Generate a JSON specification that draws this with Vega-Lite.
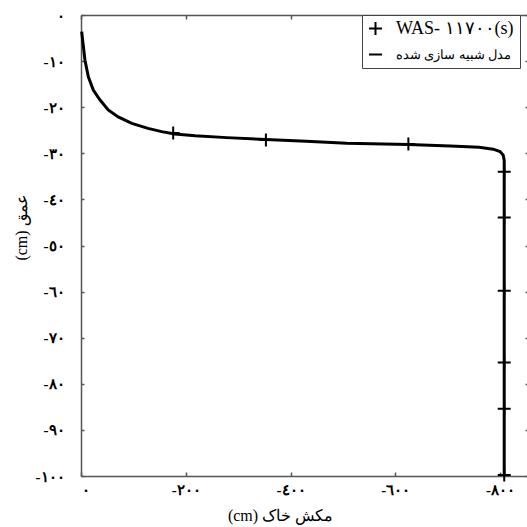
{
  "$schema": "https://vega.github.io/schema/vega-lite/v6.json",
  "autosize": {"type": "none"},
  "padding": {"left": 81, "top": 15, "right": 0, "bottom": 51},
  "width": 446,
  "height": 461,
  "background": "white",
  "config": {
    "view": {"stroke": null},
    "locale": {"number": {"decimal": ".", "thousands": ",", "grouping": [3], "currency": ["", ""], "numerals": ["٠", "١", "٢", "٣", "٤", "٥", "٦", "٧", "٨", "٩"], "minus": "-"}},
    "axis": {"grid": false, "domainColor": "#555", "domainWidth": 1.5, "tickColor": "#555", "tickWidth": 1.5, "labelColor": "black", "titleColor": "black", "labelFont": "Liberation Serif", "labelFontSize": 15, "labelFontWeight": "bold", "titleFont": "Liberation Serif", "titleFontSize": 16, "titleFontWeight": "normal"},
    "legend": {"orient": "none", "legendX": 281, "legendY": 0, "padding": 6, "strokeColor": "#444", "fillColor": "white", "cornerRadius": 0, "labelFont": "Liberation Serif", "labelColor": "black", "labelLimit": 300, "labelOffset": 13, "rowPadding": 8, "symbolStrokeWidth": 2, "symbolStrokeColor": "black", "symbolSize": 169, "title": null}
  },
  "datasets": {
    "model": [
      {"suction": -1.3, "depth": -3.6},
      {"suction": -3.8, "depth": -6.1},
      {"suction": -7.6, "depth": -9.8},
      {"suction": -14, "depth": -13.4},
      {"suction": -23.5, "depth": -16.3},
      {"suction": -36, "depth": -18.4},
      {"suction": -52, "depth": -20.6},
      {"suction": -71, "depth": -22.1},
      {"suction": -97, "depth": -23.5},
      {"suction": -128, "depth": -24.6},
      {"suction": -154, "depth": -25.3},
      {"suction": -179, "depth": -25.8},
      {"suction": -218, "depth": -26.2},
      {"suction": -278, "depth": -26.6},
      {"suction": -353, "depth": -27.0},
      {"suction": -430, "depth": -27.4},
      {"suction": -507, "depth": -27.8},
      {"suction": -625, "depth": -28.1},
      {"suction": -705, "depth": -28.4},
      {"suction": -760, "depth": -28.7},
      {"suction": -787, "depth": -29.1},
      {"suction": -800, "depth": -29.6},
      {"suction": -806, "depth": -30.4},
      {"suction": -808, "depth": -31.5},
      {"suction": -808, "depth": -100}
    ],
    "measured": [
      {"suction": -176, "depth": -25.6, "series": "WAS- ١١٧٠٠(s)"},
      {"suction": -353, "depth": -27.1, "series": "WAS- ١١٧٠٠(s)"},
      {"suction": -625, "depth": -28.0, "series": "WAS- ١١٧٠٠(s)"},
      {"suction": -808, "depth": -34.0, "series": "WAS- ١١٧٠٠(s)"},
      {"suction": -808, "depth": -43.9, "series": "WAS- ١١٧٠٠(s)"},
      {"suction": -808, "depth": -59.8, "series": "WAS- ١١٧٠٠(s)"},
      {"suction": -808, "depth": -75.4, "series": "WAS- ١١٧٠٠(s)"},
      {"suction": -808, "depth": -85.4, "series": "WAS- ١١٧٠٠(s)"},
      {"suction": -808, "depth": -99.8, "series": "WAS- ١١٧٠٠(s)"}
    ]
  },
  "layer": [
    {
      "data": {"name": "model"},
      "mark": {"type": "line", "color": "black", "strokeWidth": 3},
      "encoding": {
        "x": {"field": "suction", "type": "quantitative", "scale": {"domain": [0, -851.5], "nice": false, "zero": false},
          "axis": {"orient": "bottom", "values": [0, -200, -400, -600, -800], "tickSize": -4, "labelPadding": 10, "title": "(cm) مکش خاک", "titleX": 199, "titleY": 44, "titleBaseline": "alphabetic", "titleAlign": "center"}},
        "y": {"field": "depth", "type": "quantitative", "scale": {"domain": [-100, 0], "nice": false, "zero": false},
          "axis": {"orient": "left", "values": [0, -10, -20, -30, -40, -50, -60, -70, -80, -90, -100], "tickSize": -3, "labelPadding": 20, "title": "(cm) عمق", "titleX": -55, "titleY": 212, "titleBaseline": "alphabetic", "titleAlign": "center", "titleAngle": -90}},
        "order": {"field": "depth", "sort": "descending"}
      }
    },
    {
      "data": {"name": "measured"},
      "mark": {"type": "point", "color": "black", "filled": false, "strokeWidth": 2, "size": 169, "opacity": 1},
      "encoding": {
        "x": {"field": "suction", "type": "quantitative", "scale": {"domain": [0, -851.5], "nice": false, "zero": false},
          "axis": {"orient": "top", "values": [0, -200, -400, -600, -800], "labels": false, "title": null, "tickSize": -4}},
        "y": {"field": "depth", "type": "quantitative", "scale": {"domain": [-100, 0], "nice": false, "zero": false},
          "axis": {"orient": "right", "values": [0, -10, -20, -30, -40, -50, -60, -70, -80, -90, -100], "domain": false, "labels": false, "title": null, "tickSize": -2}},
        "shape": {"field": "series", "type": "nominal",
          "scale": {"domain": ["WAS- ١١٧٠٠(s)", "مدل شبیه سازی شده"], "range": ["M-1,0L1,0M0,-1L0,1", "M-1,0L1,0"]},
          "legend": {"title": null, "labelFontSize": {"expr": "datum.label == 'WAS- ١١٧٠٠(s)' ? 18 : 13"}}}
      }
    }
  ],
  "resolve": {"scale": {"x": "independent", "y": "independent"}}
}
